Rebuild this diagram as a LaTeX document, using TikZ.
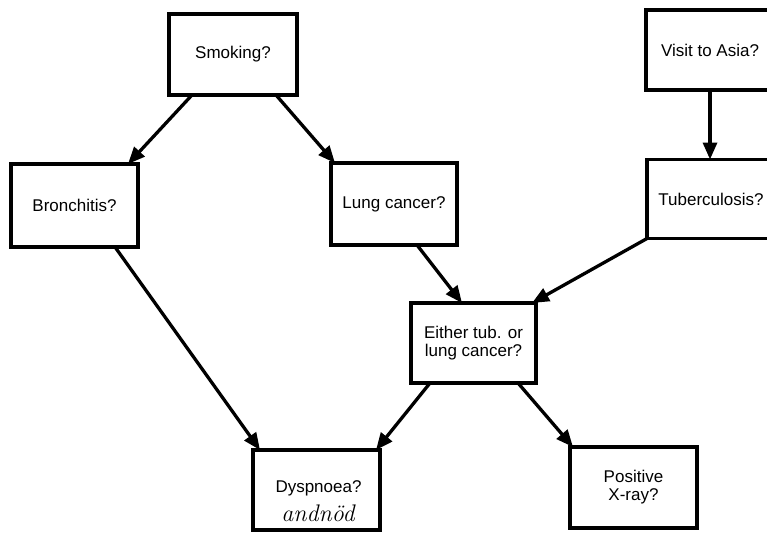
\documentclass[tikz,border=0pt]{standalone}
\usepackage{fontspec}
\newfontfamily\arial{Liberation Sans}
\usetikzlibrary{arrows.meta}
\begin{document}
\begin{tikzpicture}[x=1pt,y=-1pt,
  box/.style={draw, line width=3.2pt, rectangle, outer sep=0pt, inner sep=0pt,
    align=center, font=\arial\fontsize{17}{18}\selectfont},
  arr/.style={line width=3.3pt, -{Triangle[length=17pt,width=14pt]}},
  hand/.style={inner sep=0pt, font=\fontsize{24}{24}\selectfont\itshape\addfontfeatures{LetterSpace=16}}]
\clip (0,0) rectangle (767,532);
\node[box, minimum width=128pt, minimum height=81pt] (smoking) at (233,54.5) {Smoking?};
\node[box, minimum width=127pt, minimum height=83pt] (bron) at (74.5,205.5) {Bronchitis?};
\node[box, minimum width=126pt, minimum height=82pt] (lung) at (394,204) {Lung cancer?};
\node[box, minimum width=128pt, minimum height=80pt] (visit) at (710,50) {Visit to Asia?};
\node[box, minimum width=128pt, minimum height=79pt] (tub) at (711,199) {Tuberculosis?};
\node[box, minimum width=125pt, minimum height=80pt] (either) at (473.5,343) {Either tub. or\\lung cancer?};
\node[box, minimum width=127pt, minimum height=81pt] (pos) at (633.5,487.5) {Positive\\X-ray?};
\node[box, minimum width=127pt, minimum height=80pt] (dysp) at (316.5,490) {};
\node[inner sep=0pt, font=\arial\fontsize{17}{18}\selectfont, anchor=base] (dysptext) at (318.5,492) {Dyspnoea?};
\node[hand, anchor=base] (hw) at (318,521) {andnöd};
\draw[arr] ([xshift=-41pt]smoking.south) -- ([xshift=53.5pt]bron.north);
\draw[arr] ([xshift=43pt]smoking.south) -- ([xshift=-59pt]lung.north);
\draw[arr] (visit.south) -- (visit.south |- tub.north);
\draw[arr] ([xshift=23pt]lung.south) -- ([xshift=-11.5pt]either.north);
\draw[arr] (tub.south west) -- ([xshift=58.5pt]either.north);
\draw[arr] ([xshift=40.5pt]bron.south) -- ([xshift=-56.5pt]dysp.north);
\draw[arr] ([xshift=-43.5pt]either.south) -- ([xshift=59.5pt]dysp.north);
\draw[arr] ([xshift=44.5pt]either.south) -- ([xshift=-60.5pt]pos.north);
\end{tikzpicture}
\end{document}
